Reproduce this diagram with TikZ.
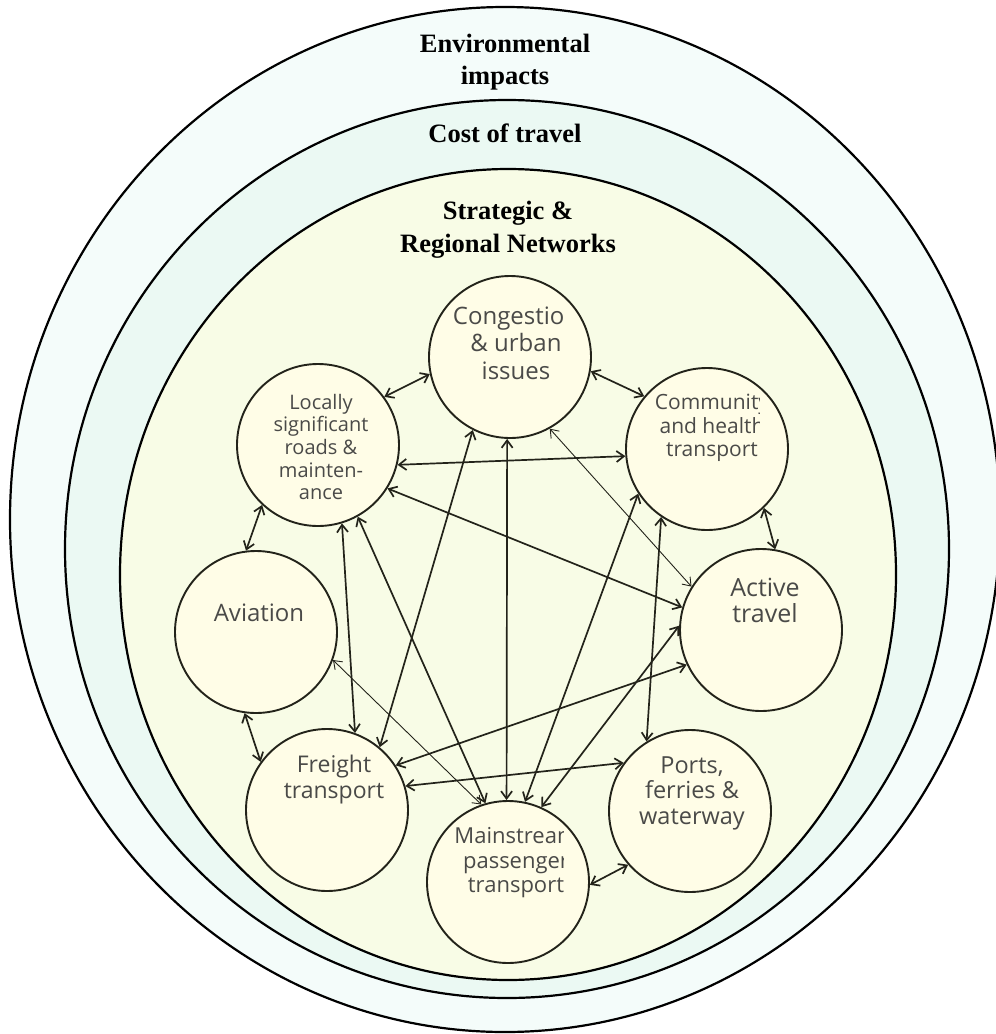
\documentclass[tikz,border=0pt]{standalone}
\usepackage{fontspec}
\setmainfont{Liberation Serif}
\newfontfamily\nodefont{Open Sans}
\usetikzlibrary{arrows.meta}
\definecolor{bandA}{HTML}{F4FCFA}
\definecolor{bandB}{HTML}{EBF9F3}
\definecolor{bandC}{HTML}{F8FCE6}
\definecolor{nodefill}{HTML}{FFFDE7}
\definecolor{linkc}{HTML}{23231A}
\definecolor{textc}{HTML}{4A4A48}
\begin{document}
\begin{tikzpicture}[x=1pt,y=-1pt,
  band/.style={draw=black, line width=2.2pt},
  topic/.style={circle, draw=linkc, line width=1.9pt, fill=nodefill, minimum size=162pt, inner sep=0pt},
  link/.style={line width=1.7pt, draw=linkc, {Straight Barb[length=7.5pt,width=11pt]}-{Straight Barb[length=7.5pt,width=11pt]}},
  thinlink/.style={link, line width=0.9pt},
  lbl/.style={text=textc, align=center, inner sep=0pt},
  title/.style={font=\bfseries\fontsize{26.5}{32}\selectfont, anchor=base, inner sep=0pt}
]
\useasboundingbox (0,0) rectangle (996,1034);
\fill[white] (0,0) rectangle (996,1034);
% nested bands
\draw[band, fill=bandA] (505,519.5) ellipse [x radius=495pt, y radius=512.5pt];
\draw[band, fill=bandB] (507,549) ellipse [x radius=442pt, y radius=449pt];
\draw[band, fill=bandC] (508,574.5) ellipse [x radius=388pt, y radius=405.5pt];
% titles
\node[title] (env1) at (505,52) {Environmental};
\node[title] (env2) at (505,84) {impacts};
\node[title] (cost) at (505,142) {Cost of travel};
\node[title] (str1) at (508,219) {Strategic \&};
\node[title] (str2) at (508,252) {Regional Networks};
% topic circles
\node[topic] (cong) at (510,357) {};
\node[topic] (loc)  at (318,445) {};
\node[topic] (comm) at (707,449) {};
\node[topic] (avi)  at (256,632) {};
\node[topic] (act)  at (761,630) {};
\node[topic] (frt)  at (327,810) {};
\node[topic] (port) at (690,811) {};
\node[topic] (main) at (508,882) {};
% labels
\begin{scope}
  \clip (430,290) rectangle (562,400);
  \node[lbl, font=\nodefont\fontsize{24}{27.5}\selectfont] (congT) at (516,343) {Congestion\\\& urban\\issues};
\end{scope}
\begin{scope}
  \clip (250,380) rectangle (370,520);
  \node[lbl, font=\nodefont\fontsize{20}{22.7}\selectfont] (locT) at (321,447) {Locally\\significant\\roads \&\\mainten-\\ance};
\end{scope}
\begin{scope}
  \clip (640,385) rectangle (759,470);
  \node[lbl, font=\nodefont\fontsize{21}{23.5}\selectfont] (commT) at (712,428) {Community\\and health\\transport};
\end{scope}
\node[lbl, font=\nodefont\fontsize{24}{27}\selectfont] (aviT) at (259,613) {Aviation};
\node[lbl, font=\nodefont\fontsize{25}{26}\selectfont] (actT) at (765,600) {Active\\travel};
\node[lbl, font=\nodefont\fontsize{23}{26}\selectfont] (frtT) at (334,780) {Freight\\transport};
\node[lbl, font=\nodefont\fontsize{23.5}{25.5}\selectfont] (portT) at (692,793) {Ports,\\ferries \&\\waterway};
\begin{scope}
  \clip (440,815) rectangle (563,905);
  \node[lbl, font=\nodefont\fontsize{22}{24.5}\selectfont] (mainT) at (516,863) {Mainstream\\passenger\\transport};
\end{scope}
% connectors
\draw[link] (cong.192.5) -- (loc.36.4);
\draw[link] (cong.-10) -- (comm.140.9);
\draw[link] (loc.227.3) -- (avi.97.5);
\draw[link] (comm.-46.4) -- (act.80);
\draw[link] (avi.262.3) -- (frt.144);
\draw[link] (main.-2) -- (port.221.7);
\draw[link] (loc.-14.5) -- (comm.185.6);
\draw[link] (loc.-32.6) -- (act.164.1);
\draw[thinlink] (cong.-61.7) -- (act.148.7);
\draw[link] (cong.243.4) -- (frt.50.6);
\draw[link] (loc.-73) -- (frt.70.1);
\draw[link] (loc.-61.3) -- (main.106.9);
\draw[link] (cong.268) -- (main.91);
\draw[link] (comm.213.3) -- (main.78.7);
\draw[link] (comm.236.5) -- (port.122.7);
\draw[link] (act.205.1) -- (frt.33.7);
\draw[link] (frt.17.4) -- (port.144.2);
\draw[thinlink] (avi.-20.8) -- (main.109.4);
\draw[link] (act.177.9) -- (main.66.5);
\end{tikzpicture}
\end{document}
